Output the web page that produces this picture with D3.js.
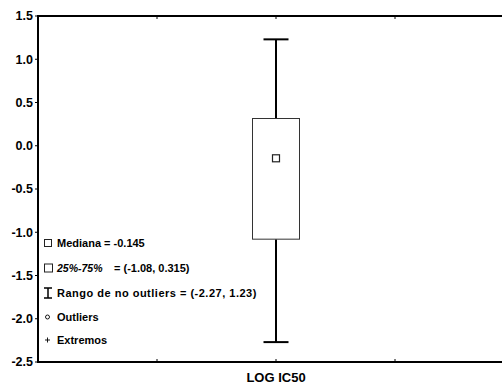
<!DOCTYPE html>
<html>
<head>
<meta charset="utf-8">
<script src="https://cdn.jsdelivr.net/npm/d3@7"></script>
<style>
  html, body { margin: 0; padding: 0; background: #fff; }
  svg { display: block; font-family: Arial, "Liberation Sans", sans-serif; }
</style>
</head>
<body>
<svg id="chart" width="502" height="385"></svg>
<script>
// Box plot of LOG IC50 — single variable, Statistica-style legend

const variables = ["LOG IC50"];
const medians = [-0.145];
const q1s = [-1.08];
const q3s = [0.315];
const whiskerLow = [-2.27];
const whiskerHigh = [1.23];
const yTicks = [1.5, 1.0, 0.5, 0.0, -0.5, -1.0, -1.5, -2.0, -2.5];

(function () {
  const W = 502, H = 385;
  const M = { top: 16, left: 38, bottom: 23 };
  const plotBottom = H - M.bottom;

  const svg = d3.select("#chart");

  const y = d3.scaleLinear().domain([-2.5, 1.5]).range([plotBottom, M.top]);
  // the x range runs past the right edge, as in the original export
  const x = d3.scaleLinear().domain([0, 4]).range([M.left, M.left + 476]);
  const catPos = i => x(i + 2);
  const num = v => String(v);

  // frame: top line, bottom line, left axis
  svg.append("line")
    .attr("x1", M.left).attr("x2", W).attr("y1", M.top).attr("y2", M.top)
    .attr("stroke", "#000").attr("stroke-width", 2);
  svg.append("line")
    .attr("x1", M.left).attr("x2", W).attr("y1", plotBottom).attr("y2", plotBottom)
    .attr("stroke", "#000").attr("stroke-width", 2);
  svg.append("line")
    .attr("x1", M.left).attr("x2", M.left).attr("y1", M.top - 1).attr("y2", plotBottom + 1)
    .attr("stroke", "#000").attr("stroke-width", 2);

  // y ticks + labels
  const yg = svg.append("g");
  yTicks.forEach(t => {
    yg.append("line")
      .attr("x1", M.left - 3).attr("x2", M.left).attr("y1", y(t)).attr("y2", y(t))
      .attr("stroke", "#000").attr("stroke-width", 1);
    yg.append("text")
      .attr("x", M.left - 5).attr("y", y(t)).attr("dy", "0.35em")
      .attr("text-anchor", "end")
      .attr("font-size", 12.5).attr("font-weight", "bold")
      .text(t.toFixed(1));
  });

  // x ticks (inside, at top and bottom)
  [1, 2, 3].forEach(t => {
    svg.append("line")
      .attr("x1", x(t)).attr("x2", x(t)).attr("y1", plotBottom).attr("y2", plotBottom - 3)
      .attr("stroke", "#000").attr("stroke-width", 1);
    svg.append("line")
      .attr("x1", x(t)).attr("x2", x(t)).attr("y1", M.top).attr("y2", M.top + 3)
      .attr("stroke", "#000").attr("stroke-width", 1);
  });

  // x category label
  variables.forEach((v, i) => {
    svg.append("text")
      .attr("x", catPos(i)).attr("y", 382)
      .attr("text-anchor", "middle")
      .attr("font-size", 13).attr("font-weight", "bold")
      .text(v);
  });

  // box plot
  const boxW = 47, capW = 25;
  variables.forEach((v, i) => {
    const cx = catPos(i);
    // whisker stems
    svg.append("line")
      .attr("x1", cx).attr("x2", cx).attr("y1", y(q3s[i])).attr("y2", y(whiskerHigh[i]))
      .attr("stroke", "#000").attr("stroke-width", 2);
    svg.append("line")
      .attr("x1", cx).attr("x2", cx).attr("y1", y(q1s[i])).attr("y2", y(whiskerLow[i]))
      .attr("stroke", "#000").attr("stroke-width", 2);
    // caps
    [whiskerHigh[i], whiskerLow[i]].forEach(w => {
      svg.append("line")
        .attr("x1", cx - capW / 2).attr("x2", cx + capW / 2).attr("y1", y(w)).attr("y2", y(w))
        .attr("stroke", "#000").attr("stroke-width", 2);
    });
    // box
    svg.append("rect")
      .attr("x", cx - boxW / 2).attr("y", y(q3s[i]))
      .attr("width", boxW).attr("height", y(q1s[i]) - y(q3s[i]))
      .attr("fill", "#fff").attr("stroke", "#333").attr("stroke-width", 1);
    // median marker
    svg.append("rect")
      .attr("x", cx - 3.5).attr("y", y(medians[i]) - 3.5)
      .attr("width", 7).attr("height", 7)
      .attr("fill", "#fff").attr("stroke", "#222").attr("stroke-width", 1.2);
  });

  // legend
  const lg = svg.append("g").attr("font-size", 11).attr("font-weight", "bold");
  const tx = 57;
  const rows = [243, 268, 293, 317, 340];

  // Mediana
  lg.append("rect").attr("x", 44.5).attr("y", rows[0] - 3.5).attr("width", 7).attr("height", 7)
    .attr("fill", "#fff").attr("stroke", "#222").attr("stroke-width", 1);
  lg.append("text").attr("x", tx).attr("y", rows[0]).attr("dy", "0.35em")
    .text("Mediana = " + num(medians[0]));

  // 25%-75%
  lg.append("rect").attr("x", 44.5).attr("y", rows[1] - 4).attr("width", 8).attr("height", 8)
    .attr("fill", "#fff").attr("stroke", "#222").attr("stroke-width", 1);
  const t2 = lg.append("text").attr("x", tx).attr("y", rows[1]).attr("dy", "0.35em");
  t2.append("tspan").attr("font-style", "italic").attr("font-size", 10.5).text("25%-75%");
  t2.append("tspan").attr("x", tx + 57).text("= (" + num(q1s[0]) + ",  " + num(q3s[0]) + ")");

  // Rango
  lg.append("path")
    .attr("d", `M44,${rows[2] - 5}H52M48,${rows[2] - 5}V${rows[2] + 5}M44,${rows[2] + 5}H52`)
    .attr("stroke", "#000").attr("stroke-width", 1.5).attr("fill", "none");
  lg.append("text").attr("x", tx).attr("y", rows[2]).attr("dy", "0.35em")
    .attr("letter-spacing", 0.5)
    .text("Rango de no outliers = (" + num(whiskerLow[0]) + ",  " + num(whiskerHigh[0]) + ")");

  // Outliers
  lg.append("circle").attr("cx", 47.5).attr("cy", rows[3]).attr("r", 2)
    .attr("fill", "none").attr("stroke", "#000").attr("stroke-width", 0.9);
  lg.append("text").attr("x", tx).attr("y", rows[3]).attr("dy", "0.35em").text("Outliers");

  // Extremos
  lg.append("path")
    .attr("d", `M45,${rows[4]}H50M47.5,${rows[4] - 2.5}V${rows[4] + 2.5}`)
    .attr("stroke", "#000").attr("stroke-width", 0.9);
  lg.append("text").attr("x", tx).attr("y", rows[4]).attr("dy", "0.35em").text("Extremos");
})();
</script>
</body>
</html>
